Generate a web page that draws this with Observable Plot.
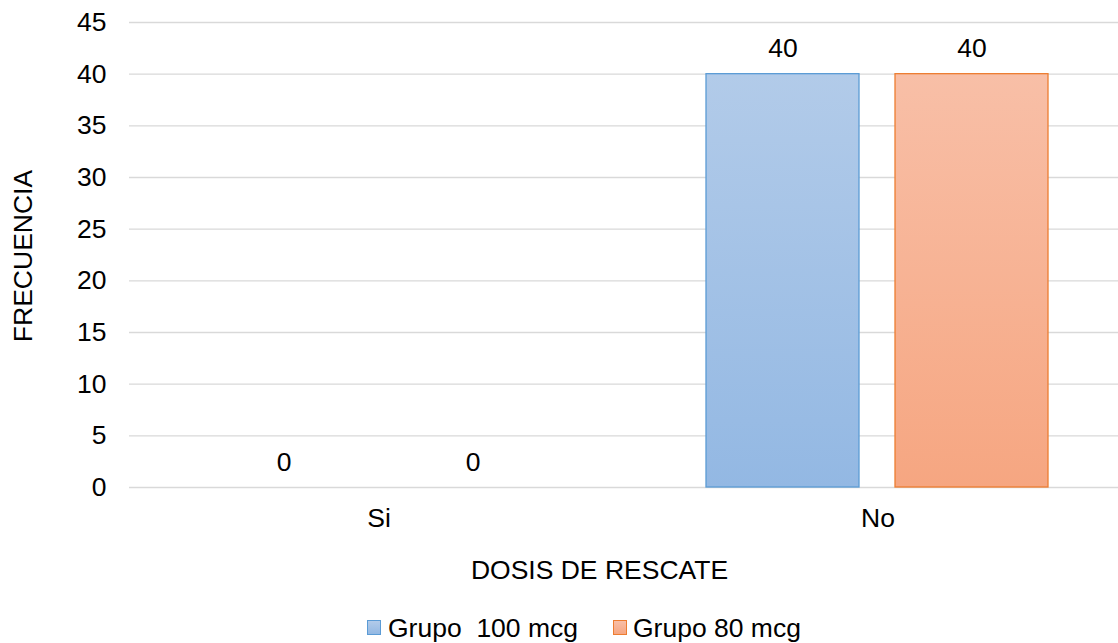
<!DOCTYPE html>
<html>
<head>
<meta charset="utf-8">
<script src="https://cdn.jsdelivr.net/npm/d3@7"></script>
<script src="https://cdn.jsdelivr.net/npm/@observablehq/plot@0.6"></script>
<style>
  html, body { margin: 0; padding: 0; background: #fff; overflow: hidden; }
  #wrap { position: relative; width: 1118px; height: 643px; font-family: "Liberation Sans", Arial, sans-serif; color: #000; }
  .t { position: absolute; font-size: 26.5px; line-height: 1; white-space: pre; }
  .sw { position: absolute; width: 14px; height: 15px; box-sizing: border-box; border: 1.3px solid; }
</style>
</head>
<body>
<div id="wrap"></div>
<script>
const categories = ["Si", "No"];
const seriesNames = ["Grupo  100 mcg", "Grupo 80 mcg"];
const grupo100 = [0, 40];
const grupo80 = [0, 40];
const yTicks = [0, 5, 10, 15, 20, 25, 30, 35, 40, 45];
const xTitle = "DOSIS DE RESCATE";
const yTitle = "FRECUENCIA";

const strokes = ["#5b9bd5", "#ed7d31"];
const fills = ["url(#gradBlue)", "url(#gradOrange)"];

const d100 = categories.map((c, i) => ({cat: c, group: seriesNames[0], value: grupo100[i]}));
const d80 = categories.map((c, i) => ({cat: c, group: seriesNames[1], value: grupo80[i]}));
const all = d100.concat(d80);

const FS = 26.5;

const chart = Plot.plot({
  width: 1118,
  height: 643,
  marginLeft: 128,
  marginRight: -9,
  marginTop: 22,
  marginBottom: 156,
  style: {fontSize: FS + "px", fontFamily: "Liberation Sans, Arial, sans-serif", color: "#000", background: "transparent"},
  fx: {domain: categories, padding: 0, label: null, axis: null},
  x: {domain: seriesNames, paddingInner: 0.19, paddingOuter: 0.41, axis: null},
  y: {domain: [0, 45], axis: null},
  marks: [
    Plot.ruleY(yTicks, {stroke: "#d9d9d9", strokeWidth: 1.3}),
    Plot.barY(d100, {fx: "cat", x: "group", y: "value", fill: fills[0], stroke: strokes[0], strokeWidth: 1.3}),
    Plot.barY(d80, {fx: "cat", x: "group", y: "value", fill: fills[1], stroke: strokes[1], strokeWidth: 1.3}),
    Plot.text(all, {fx: "cat", x: "group", y: "value", text: d => String(d.value), lineAnchor: "bottom", dy: -17, fontSize: FS, fill: "#000"}),
    Plot.axisY({ticks: yTicks, tickSize: 0, tickPadding: 23, label: null, fontSize: FS}),
    Plot.axisFx({anchor: "bottom", tickSize: 0, tickPadding: 21, label: null, fontSize: FS})
  ]
});

const svg = d3.select(chart.tagName.toLowerCase() === "svg" ? chart : chart.querySelector("svg"));
const defs = svg.insert("defs", ":first-child");
function grad(id, top, bottom) {
  const g = defs.append("linearGradient").attr("id", id).attr("x1", 0).attr("y1", 0).attr("x2", 0).attr("y2", 1);
  g.append("stop").attr("offset", "0%").attr("stop-color", top);
  g.append("stop").attr("offset", "100%").attr("stop-color", bottom);
}
grad("gradBlue", "#b2cbe9", "#93b8e3");
grad("gradOrange", "#f8bfa7", "#f6a681");

const wrap = document.getElementById("wrap");
wrap.appendChild(chart);
chart.style.position = "absolute";
chart.style.left = "0px";
chart.style.top = "0px";

// axis titles
const xt = document.createElement("div");
xt.className = "t";
xt.textContent = xTitle;
xt.style.left = "599.5px";
xt.style.top = "556.5px";
xt.style.transform = "translateX(-50%)";
wrap.appendChild(xt);

const yt = document.createElement("div");
yt.className = "t";
yt.textContent = yTitle;
yt.style.left = "23px";
yt.style.top = "256px";
yt.style.transform = "translate(-50%,-50%) rotate(-90deg)";
wrap.appendChild(yt);

// legend
const legendPos = [{sw: 367, tx: 388}, {sw: 613, tx: 633}];
const legendBg = ["linear-gradient(#b2cbe9,#93b8e3)", "linear-gradient(#f8bfa7,#f6a681)"];
seriesNames.forEach((name, i) => {
  const s = document.createElement("div");
  s.className = "sw";
  s.style.left = legendPos[i].sw + "px";
  s.style.top = "620px";
  s.style.borderColor = strokes[i];
  s.style.background = legendBg[i];
  wrap.appendChild(s);
  const t = document.createElement("div");
  t.className = "t";
  t.textContent = name;
  t.style.left = legendPos[i].tx + "px";
  t.style.top = "614.5px";
  wrap.appendChild(t);
});
</script>
</body>
</html>
